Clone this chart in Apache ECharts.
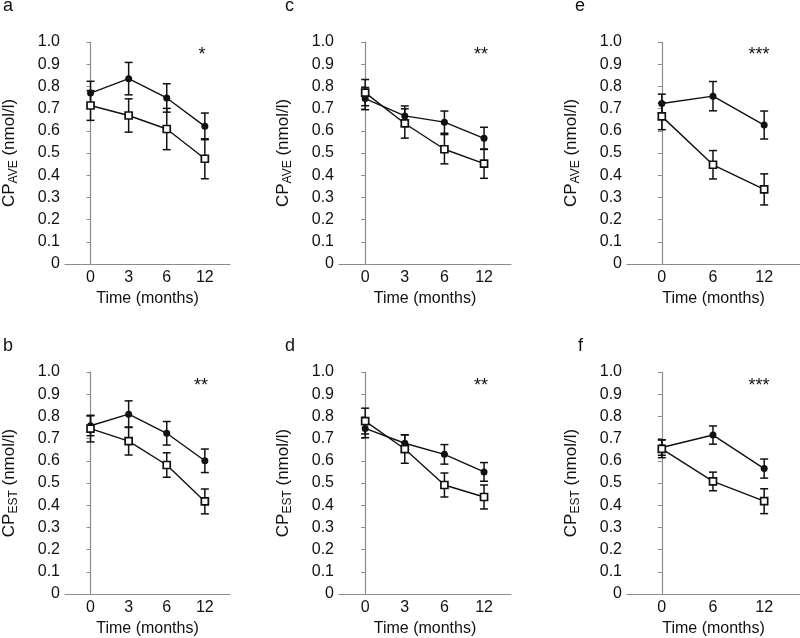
<!DOCTYPE html>
<html lang="en">
<head>
<meta charset="UTF-8">
<title>C-peptide over time</title>
<script src="https://cdn.jsdelivr.net/npm/echarts@6/dist/echarts.min.js"></script>
<style>
  html, body { margin: 0; padding: 0; background: #fff; }
  #chart { width: 800px; height: 638px; }
</style>
</head>
<body>
<div id="chart"></div>
<script>
  // time points (months)
  var months4 = ['0', '3', '6', '12'];
  var months3 = ['0', '6', '12'];

  // a: CP_AVE, first study
  var aFilled = [0.770, 0.835, 0.748, 0.620];
  var aFilledSem = [0.053, 0.073, 0.064, 0.060];
  var aOpen = [0.714, 0.669, 0.608, 0.474];
  var aOpenSem = [0.067, 0.075, 0.093, 0.090];

  // b: CP_EST, first study
  var bFilled = [0.758, 0.810, 0.724, 0.600];
  var bFilledSem = [0.045, 0.060, 0.053, 0.053];
  var bOpen = [0.745, 0.689, 0.581, 0.417];
  var bOpenSem = [0.060, 0.063, 0.055, 0.056];

  // c: CP_AVE, second study
  var cFilled = [0.745, 0.667, 0.639, 0.566];
  var cFilledSem = [0.050, 0.045, 0.050, 0.050];
  var cOpen = [0.772, 0.633, 0.517, 0.452];
  var cOpenSem = [0.059, 0.066, 0.066, 0.066];

  // d: CP_EST, second study
  var dFilled = [0.746, 0.679, 0.629, 0.550];
  var dFilledSem = [0.042, 0.038, 0.044, 0.042];
  var dOpen = [0.779, 0.653, 0.491, 0.437];
  var dOpenSem = [0.058, 0.064, 0.054, 0.054];

  // e: CP_AVE, third study
  var eFilled = [0.723, 0.756, 0.626];
  var eFilledSem = [0.042, 0.066, 0.063];
  var eOpen = [0.665, 0.447, 0.336];
  var eOpenSem = [0.060, 0.064, 0.070];

  // f: CP_EST, third study
  var fFilled = [0.660, 0.716, 0.565];
  var fFilledSem = [0.035, 0.041, 0.043];
  var fOpen = [0.654, 0.507, 0.418];
  var fOpenSem = [0.040, 0.042, 0.056];

  var yTicks = [0, 0.1, 0.2, 0.3, 0.4, 0.5, 0.6, 0.7, 0.8, 0.9, 1.0];

  var panels = [
    { key: 'a', months: months4, filled: aFilled, filledSem: aFilledSem, open: aOpen, openSem: aOpenSem, sub: 'AVE', stars: '*' },
    { key: 'c', months: months4, filled: cFilled, filledSem: cFilledSem, open: cOpen, openSem: cOpenSem, sub: 'AVE', stars: '**' },
    { key: 'e', months: months3, filled: eFilled, filledSem: eFilledSem, open: eOpen, openSem: eOpenSem, sub: 'AVE', stars: '***' },
    { key: 'b', months: months4, filled: bFilled, filledSem: bFilledSem, open: bOpen, openSem: bOpenSem, sub: 'EST', stars: '**' },
    { key: 'd', months: months4, filled: dFilled, filledSem: dFilledSem, open: dOpen, openSem: dOpenSem, sub: 'EST', stars: '**' },
    { key: 'f', months: months3, filled: fFilled, filledSem: fFilledSem, open: fOpen, openSem: fOpenSem, sub: 'EST', stars: '***' }
  ];

  // where each panel sits on the page
  var layout = {
    a: { left: 59, top: 42, width: 171, xmin: -0.67, xmax: 3.66, lx: 3, ly: 15.5, sx: 202, sy: 64 },
    c: { left: 339, top: 42, width: 172, xmin: -0.66, xmax: 3.68, lx: 285, ly: 15.5, sx: 481, sy: 64 },
    e: { left: 627, top: 42, width: 173, xmin: -0.68, xmax: 2.70, lx: 575, ly: 15.5, sx: 759, sy: 64 },
    b: { left: 59, top: 372, width: 171, xmin: -0.67, xmax: 3.66, lx: 3, ly: 355, sx: 201, sy: 395 },
    d: { left: 339, top: 372, width: 172, xmin: -0.66, xmax: 3.68, lx: 285, ly: 355, sx: 481, sy: 395 },
    f: { left: 627, top: 372, width: 173, xmin: -0.68, xmax: 2.70, lx: 578, ly: 355, sx: 759, sy: 395 }
  };

  var font = '"Liberation Sans", Arial, sans-serif';
  var ink = '#111';
  var axisGray = '#8c8c8c';

  function errRender(params, api) {
    var x = api.value(0);
    var lo = api.coord([x, api.value(1)]);
    var hi = api.coord([x, api.value(2)]);
    var cw = 4;
    var st = { stroke: ink, lineWidth: 1.5 };
    return {
      type: 'group',
      children: [
        { type: 'line', shape: { x1: lo[0], y1: lo[1], x2: hi[0], y2: hi[1] }, style: st },
        { type: 'line', shape: { x1: lo[0] - cw, y1: lo[1], x2: lo[0] + cw, y2: lo[1] }, style: st },
        { type: 'line', shape: { x1: hi[0] - cw, y1: hi[1], x2: hi[0] + cw, y2: hi[1] }, style: st }
      ]
    };
  }

  var grid = [], xAxis = [], yAxis = [], series = [], graphic = [];

  panels.forEach(function (p, i) {
    var L = layout[p.key];
    grid.push({ left: L.left, top: L.top, width: L.width, height: 222 });

    var idx = p.months.map(function (m, k) { return k; });
    xAxis.push({
      type: 'value', gridIndex: i, min: L.xmin, max: L.xmax,
      name: 'Time (months)', nameLocation: 'middle', nameGap: 27,
      nameTextStyle: { fontFamily: font, fontSize: 16, color: ink },
      axisLine: { lineStyle: { color: axisGray, width: 1.2 } },
      axisTick: { show: false },
      splitLine: { show: false },
      axisLabel: {
        customValues: idx, margin: 6,
        fontFamily: font, fontSize: 16, color: ink,
        formatter: function (v) { return p.months[Math.round(v)]; }
      }
    });

    yAxis.push({
      type: 'value', gridIndex: i, min: 0, max: 1, interval: 0.1,
      name: '{m|CP}{s|' + p.sub + '}{m| (nmol/l)}',
      nameLocation: 'middle', nameGap: 47, nameRotate: 90,
      nameTextStyle: {
        rich: {
          m: { fontFamily: font, fontSize: 17, color: ink },
          s: { fontFamily: font, fontSize: 12, color: ink, verticalAlign: 'bottom', padding: [0, 0, -2, 0] }
        }
      },
      axisLine: { show: true, lineStyle: { color: axisGray, width: 1.2 } },
      axisTick: { show: true, length: 4, lineStyle: { color: axisGray } },
      splitLine: { show: false },
      axisLabel: {
        customValues: yTicks, margin: 5,
        fontFamily: font, fontSize: 16, color: ink,
        formatter: function (v) { return v === 0 ? '0' : v.toFixed(1); }
      }
    });

    var errs = [];
    p.filled.forEach(function (v, k) { errs.push([k, v - p.filledSem[k], v + p.filledSem[k]]); });
    p.open.forEach(function (v, k) { errs.push([k, v - p.openSem[k], v + p.openSem[k]]); });

    series.push({
      type: 'custom', xAxisIndex: i, yAxisIndex: i, z: 1,
      renderItem: errRender, encode: { x: 0, y: [1, 2] }, data: errs, clip: false
    });
    series.push({
      type: 'line', xAxisIndex: i, yAxisIndex: i, z: 2,
      data: p.filled.map(function (v, k) { return [k, v]; }),
      symbol: 'circle', symbolSize: 7,
      lineStyle: { color: ink, width: 1.4 },
      itemStyle: { color: ink, borderWidth: 0 }
    });
    series.push({
      type: 'line', xAxisIndex: i, yAxisIndex: i, z: 3,
      data: p.open.map(function (v, k) { return [k, v]; }),
      symbol: 'rect', symbolSize: 7,
      lineStyle: { color: ink, width: 1.4 },
      itemStyle: { color: '#fff', borderColor: ink, borderWidth: 1.7 }
    });

    graphic.push({
      type: 'text', x: L.lx, y: L.ly,
      style: { text: p.key, fontFamily: font, fontSize: 18, fill: ink, align: 'left', verticalAlign: 'bottom' }
    });
    graphic.push({
      type: 'text', x: L.sx, y: L.sy,
      style: { text: p.stars, fontFamily: font, fontSize: 18, fill: ink, align: 'center', verticalAlign: 'bottom' }
    });
  });

  var chart = echarts.init(document.getElementById('chart'));
  chart.setOption({
    animation: false,
    backgroundColor: '#fff',
    grid: grid,
    xAxis: xAxis,
    yAxis: yAxis,
    series: series,
    graphic: graphic
  });
</script>
</body>
</html>
